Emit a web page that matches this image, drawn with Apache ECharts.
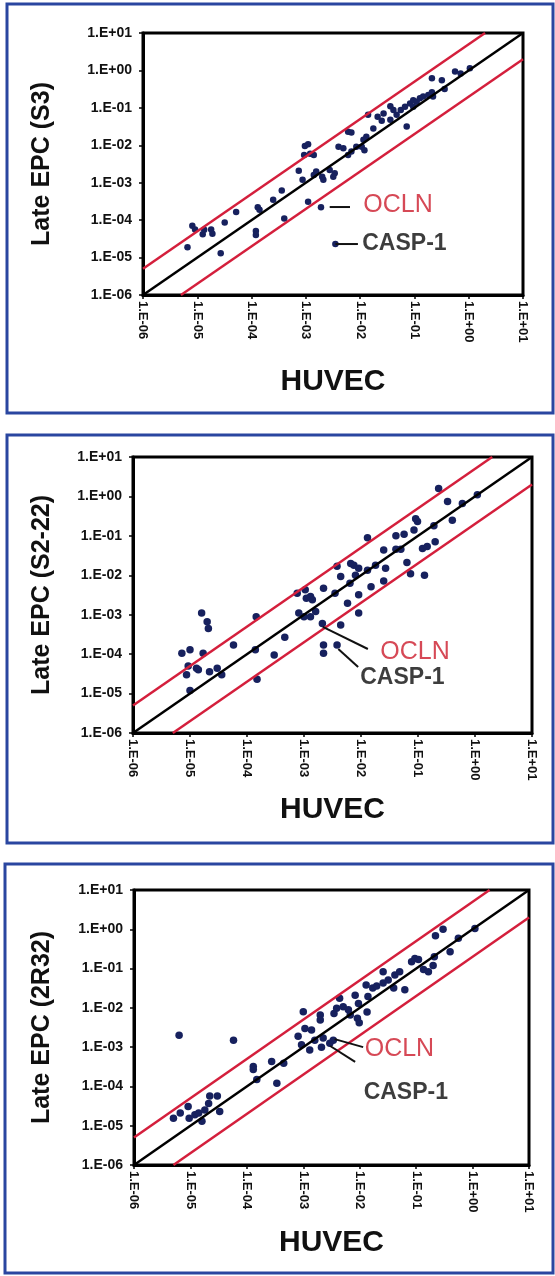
<!DOCTYPE html>
<html>
<head>
<meta charset="utf-8">
<script src="https://cdn.jsdelivr.net/npm/echarts@6/dist/echarts.min.js"></script>
<style>
  html, body { margin: 0; padding: 0; background: #fff; }
  #chart { width: 555px; height: 1276px; }
</style>
</head>
<body>
<div id="chart"></div>
<script>
// HUVEC (x) vs Late EPC (y), one [x, y] pair per gene
const s3Points = [
  [6.6e-6, 1.9e-5], [8.1e-6, 7.1e-5], [9.1e-6, 5.6e-5], [1.26e-5, 4.2e-5], [1.34e-5, 5.5e-5],
  [1.8e-5, 5.6e-5], [1.9e-5, 4.3e-5], [2.7e-5, 1.3e-5], [3.2e-5, 8.7e-5], [5.2e-5, 1.65e-4],
  [1.2e-4, 5.1e-5], [1.2e-4, 4.0e-5], [1.3e-4, 2.2e-4], [1.4e-4, 1.9e-4], [2.5e-4, 3.5e-4],
  [3.6e-4, 6.2e-4], [4.0e-4, 1.1e-4], [7.4e-4, 2.1e-3], [8.7e-4, 1.2e-3], [9.6e-4, 9.5e-3],
  [1.1e-3, 1.07e-2], [9.3e-4, 5.5e-3], [1.2e-3, 5.9e-3], [1.4e-3, 5.5e-3], [1.1e-3, 3.1e-4],
  [1.4e-3, 1.6e-3], [1.55e-3, 2.0e-3], [2.0e-3, 1.45e-3], [2.1e-3, 1.2e-3], [2.75e-3, 2.2e-3],
  [3.4e-3, 1.8e-3], [3.2e-3, 1.45e-3], [1.9e-3, 2.2e-4], [3.5e-3, 2.3e-5], [4.0e-3, 9.1e-3],
  [4.9e-3, 8.3e-3], [6.0e-3, 2.3e-2], [6.9e-3, 2.2e-2], [6.0e-3, 5.5e-3], [6.9e-3, 6.8e-3],
  [8.5e-3, 9.1e-3], [1.07e-2, 9.1e-3], [1.2e-2, 7.4e-3], [1.3e-2, 1.7e-2], [1.15e-2, 1.4e-2],
  [1.4e-2, 6.5e-2], [2.1e-2, 5.8e-2], [2.5e-2, 4.5e-2], [1.75e-2, 2.8e-2], [3.6e-2, 0.11],
  [3.6e-2, 4.8e-2], [4.7e-2, 6.5e-2], [5.6e-2, 8.7e-2], [6.7e-2, 0.107], [7.2e-2, 3.2e-2],
  [8.3e-2, 0.13], [9.5e-2, 0.16], [0.11, 0.145], [0.126, 0.18], [0.145, 0.2],
  [0.18, 0.22], [0.21, 0.26], [0.22, 0.2], [0.21, 0.62], [0.32, 0.55],
  [0.36, 0.32], [0.56, 0.93], [0.71, 0.83], [1.05, 1.15], [2.7e-2, 7.1e-2],
  [4.1e-2, 8.7e-2], [9.5e-2, 0.107]
];
const s222Points = [
  [7.2e-6, 1.05e-4], [1.0e-5, 1.3e-4], [9.3e-6, 5.0e-5], [8.7e-6, 3.0e-5], [1.3e-5, 4.4e-5],
  [1.4e-5, 4.0e-5], [1.0e-5, 1.2e-5], [1.6e-5, 1.1e-3], [2.0e-5, 6.6e-4], [2.1e-5, 4.5e-4],
  [1.7e-5, 1.05e-4], [2.2e-5, 3.6e-5], [3.0e-5, 4.4e-5], [3.6e-5, 3.0e-5], [5.8e-5, 1.7e-4],
  [1.45e-4, 8.9e-4], [1.4e-4, 1.3e-4], [1.5e-4, 2.3e-5], [3.0e-4, 9.5e-5], [4.6e-4, 2.7e-4],
  [7.6e-4, 3.5e-3], [8.1e-4, 1.1e-3], [1.0e-3, 8.9e-4], [1.05e-3, 4.3e-3], [1.3e-3, 2.9e-3],
  [1.4e-3, 2.4e-3], [1.1e-3, 2.6e-3], [1.3e-3, 8.9e-4], [1.6e-3, 1.2e-3], [2.2e-3, 4.7e-3],
  [2.1e-3, 6.0e-4], [2.2e-3, 1.7e-4], [2.2e-3, 1.05e-4], [3.8e-3, 1.7e-4], [4.4e-3, 5.5e-4],
  [3.8e-3, 1.7e-2], [4.4e-3, 9.3e-3], [3.5e-3, 3.5e-3], [5.8e-3, 1.95e-3], [6.6e-3, 2.0e-2],
  [7.5e-3, 1.8e-2], [8.0e-3, 1.0e-2], [9.1e-3, 1.5e-2], [6.4e-3, 6.3e-3], [9.1e-3, 3.2e-3],
  [9.1e-3, 1.1e-3], [1.3e-2, 8.9e-2], [1.3e-2, 1.35e-2], [1.5e-2, 5.1e-3], [1.8e-2, 1.8e-2],
  [2.5e-2, 4.4e-2], [2.7e-2, 1.5e-2], [2.5e-2, 7.2e-3], [4.1e-2, 0.1], [4.1e-2, 4.6e-2],
  [5.0e-2, 4.6e-2], [5.7e-2, 0.11], [6.4e-2, 2.1e-2], [7.4e-2, 1.1e-2], [8.5e-2, 0.14],
  [9.1e-2, 0.27], [9.8e-2, 0.23], [0.12, 4.8e-2], [0.13, 1.0e-2], [0.145, 5.4e-2],
  [0.2, 7.1e-2], [0.19, 0.18], [0.23, 1.6], [0.33, 0.74], [0.4, 0.25],
  [0.6, 0.66], [1.1, 1.1]
];
const r32Points = [
  [6.3e-6, 2.0e-3], [5.8e-5, 1.5e-3], [5.0e-6, 1.55e-5], [6.6e-6, 2.1e-5], [9.1e-6, 3.1e-5],
  [9.5e-6, 1.55e-5], [1.2e-5, 1.9e-5], [1.4e-5, 2.1e-5], [1.6e-5, 1.3e-5], [1.8e-5, 2.5e-5],
  [2.1e-5, 3.7e-5], [2.2e-5, 5.7e-5], [3.0e-5, 5.7e-5], [3.3e-5, 2.3e-5], [1.3e-4, 3.2e-4],
  [1.3e-4, 2.7e-4], [1.5e-4, 1.5e-4], [2.75e-4, 4.3e-4], [3.4e-4, 1.2e-4], [4.5e-4, 3.9e-4],
  [8.1e-4, 1.9e-3], [1.0e-3, 8.0e-3], [1.07e-3, 3.0e-3], [1.4e-3, 2.75e-3], [9.3e-4, 1.15e-3],
  [1.3e-3, 8.5e-4], [1.6e-3, 1.5e-3], [2.0e-3, 6.6e-3], [2.0e-3, 4.9e-3], [2.25e-3, 1.7e-3],
  [2.1e-3, 1.0e-3], [3.4e-3, 1.5e-3], [3.5e-3, 7.2e-3], [3.9e-3, 9.8e-3], [4.4e-3, 1.75e-2],
  [5.1e-3, 1.07e-2], [6.3e-3, 8.9e-3], [6.8e-3, 6.6e-3], [8.3e-3, 2.1e-2], [9.1e-3, 5.4e-3],
  [9.8e-3, 4.2e-3], [9.5e-3, 1.3e-2], [1.3e-2, 3.8e-2], [1.4e-2, 1.95e-2], [1.35e-2, 7.9e-3],
  [1.7e-2, 3.2e-2], [2.0e-2, 3.6e-2], [2.6e-2, 8.3e-2], [2.6e-2, 4.3e-2], [3.2e-2, 5.1e-2],
  [4.0e-2, 3.2e-2], [4.2e-2, 6.9e-2], [5.1e-2, 8.3e-2], [6.3e-2, 2.9e-2], [8.3e-2, 0.15],
  [9.5e-2, 0.18], [0.11, 0.17], [0.135, 9.5e-2], [0.165, 8.3e-2], [0.2, 0.12],
  [0.22, 0.68], [0.3, 1.0], [0.4, 0.27], [0.56, 0.59], [1.1, 1.05],
  [0.21, 0.2], [2.95e-3, 1.26e-3]
];

// reference lines: identity and 5-fold up / down
const identityLine = [[1e-6, 1e-6], [10, 10]];
const upperLine = [[1e-6, 5e-6], [2, 10]];
const lowerLine = [[5e-6, 1e-6], [10, 2]];

// gene call-outs, in data units: text anchor and leader line
const s3Notes = {
  oclnText: [1.12e-2, 2.5e-4], oclnLeader: [[2.75e-3, 2.24e-4], [6.5e-3, 2.24e-4]],
  caspText: [1.07e-2, 2.3e-5], caspLeader: [[3.5e-3, 2.3e-5], [9.1e-3, 2.3e-5]]
};
const s222Notes = {
  oclnText: [2.14e-2, 1.12e-4], oclnLeader: [[1.32e-2, 1.35e-4], [2.14e-3, 4.9e-4]],
  caspText: [9.5e-3, 2.6e-5], caspLeader: [[8.9e-3, 4.7e-5], [4.0e-3, 1.35e-4]]
};
const r32Notes = {
  oclnText: [1.2e-2, 8.9e-4], oclnLeader: [[1.15e-2, 1.0e-3], [3.6e-3, 1.6e-3]],
  caspText: [1.15e-2, 6.8e-5], caspLeader: [[8.3e-3, 4.2e-4], [3.0e-3, 1.07e-3]]
};

const yNames = ['Late EPC (S3)', 'Late EPC (S2-22)', 'Late EPC (2R32)'];
const xName = 'HUVEC';

const font = '"Liberation Sans", Arial, sans-serif';
const dotColor = '#17215e';
const redColor = '#d41f3c';

const panels = [
  { points: s3Points, notes: s3Notes, grid: { left: 143, top: 33, width: 380, height: 262 },
    yGap: 88, xGap: 72, dot: 6.5, frame: [7, 4, 546, 409] },
  { points: s222Points, notes: s222Notes, grid: { left: 133, top: 457, width: 399, height: 276 },
    yGap: 78, xGap: 62, dot: 7.5, frame: [7, 435, 546, 408] },
  { points: r32Points, notes: r32Notes, grid: { left: 134, top: 890, width: 395, height: 275 },
    yGap: 79, xGap: 63, dot: 7.5, frame: [5, 864, 548, 409] }
];

function sciLabel(v) {
  const e = Math.round(Math.log10(v));
  return '1.E' + (e < 0 ? '-' : '+') + String(Math.abs(e)).padStart(2, '0');
}

const chart = echarts.init(document.getElementById('chart'));

const grids = [], xAxes = [], yAxes = [], series = [], graphics = [];

panels.forEach((p, i) => {
  grids.push(Object.assign({ show: true, borderColor: '#000', borderWidth: 3, backgroundColor: '#fff' }, p.grid));
  xAxes.push({
    type: 'log', logBase: 10, min: 1e-6, max: 10, gridIndex: i,
    name: xName, nameLocation: 'middle', nameGap: p.xGap,
    nameTextStyle: { fontSize: 30, fontWeight: 'bold', color: '#111', fontFamily: font },
    axisLine: { show: true, lineStyle: { color: '#000', width: 3 } },
    axisTick: { show: true, length: 4, lineStyle: { color: '#000', width: 1.5 } },
    splitLine: { show: false },
    minorTick: { show: false },
    axisLabel: { rotate: -90, margin: 6, fontSize: 13, fontWeight: 'bold', color: '#111',
      fontFamily: font, formatter: sciLabel, hideOverlap: false }
  });
  yAxes.push({
    type: 'log', logBase: 10, min: 1e-6, max: 10, gridIndex: i,
    name: yNames[i], nameLocation: 'middle', nameGap: p.yGap,
    nameTextStyle: { fontSize: 25, fontWeight: 'bold', color: '#111', fontFamily: font },
    axisLine: { show: true, lineStyle: { color: '#000', width: 3 } },
    axisTick: { show: true, length: 4, lineStyle: { color: '#000', width: 1.5 } },
    splitLine: { show: false },
    axisLabel: { margin: 11, fontSize: 14, fontWeight: 'bold', color: '#111',
      fontFamily: font, formatter: sciLabel, hideOverlap: false }
  });

  const base = { xAxisIndex: i, yAxisIndex: i, silent: true, animation: false };
  [[lowerLine, redColor], [upperLine, redColor], [identityLine, '#000']].forEach(([d, c]) => {
    series.push(Object.assign({ type: 'line', data: d, symbol: 'none', clip: true,
      lineStyle: { color: c, width: 2.5 } }, base));
  });
  series.push(Object.assign({ type: 'scatter', data: p.points, symbolSize: p.dot,
    itemStyle: { color: dotColor, opacity: 1 } }, base));
  [p.notes.oclnLeader, p.notes.caspLeader].forEach(d => {
    series.push(Object.assign({ type: 'line', data: d, symbol: 'none',
      lineStyle: { color: '#111', width: 2 } }, base));
  });
  series.push(Object.assign({ type: 'scatter', data: [p.notes.oclnText], symbolSize: 1,
    itemStyle: { color: 'rgba(0,0,0,0)' },
    label: { show: true, position: 'right', distance: 0, formatter: 'OCLN',
      fontSize: 25, color: '#cc1c2c', fontFamily: font } }, base));
  series.push(Object.assign({ type: 'scatter', data: [p.notes.caspText], symbolSize: 1,
    itemStyle: { color: 'rgba(0,0,0,0)' },
    label: { show: true, position: 'right', distance: 0, formatter: 'CASP-1',
      fontSize: 23, fontWeight: 'bold', color: '#0d0d0d', fontFamily: font } }, base));

  graphics.push({ type: 'rect', silent: true, z: 100,
    shape: { x: p.frame[0], y: p.frame[1], width: p.frame[2], height: p.frame[3] },
    style: { fill: 'none', stroke: '#2a46a0', lineWidth: 3 } });
});

chart.setOption({
  backgroundColor: '#fff',
  animation: false,
  grid: grids,
  xAxis: xAxes,
  yAxis: yAxes,
  series: series,
  graphic: graphics
});
</script>
</body>
</html>
